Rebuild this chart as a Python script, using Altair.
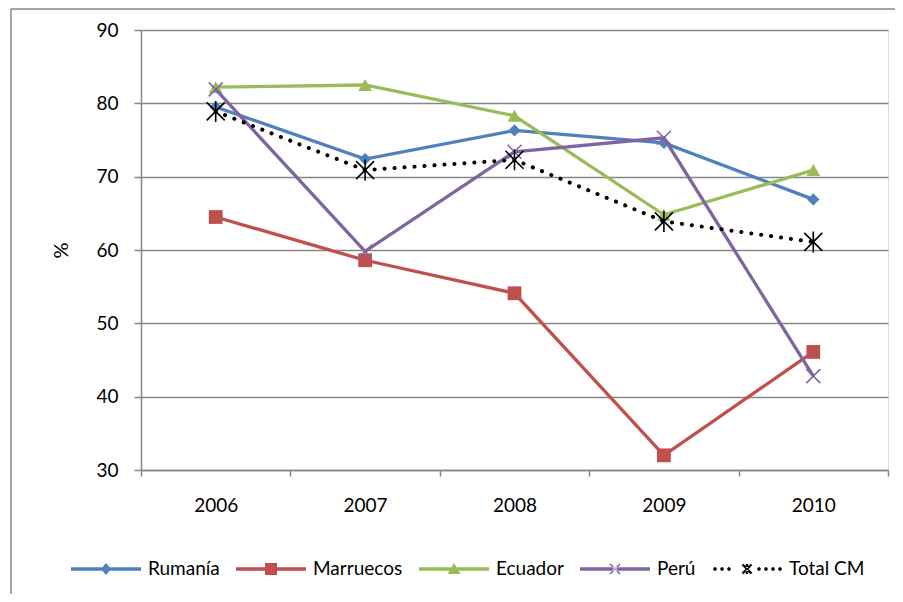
import math
import altair as alt
import pandas as pd

# ---------------- data ----------------
years = ["2006", "2007", "2008", "2009", "2010"]
series = ["Rumanía", "Marruecos", "Ecuador", "Perú", "Total CM"]
rumania = [79.5, 72.4, 76.3, 74.6, 66.9]
marruecos = [64.5, 58.6, 54.1, 32.0, 46.1]
ecuador = [82.2, 82.5, 78.3, 64.8, 70.9]
peru = [81.9, 59.8, 73.4, 75.3, 42.8]
total_cm = [78.9, 70.9, 72.3, 63.9, 61.1]
colors = ["#4F81BD", "#C0504D", "#9BBB59", "#8064A2", "#000000"]
y_ticks = [30, 40, 50, 60, 70, 80, 90]

values = [rumania, marruecos, ecuador, peru, total_cm]
rows = []
for s, vals in zip(series, values):
    for yr, v in zip(years, vals):
        rows.append({"year": yr, "serie": s, "value": v})
df = pd.DataFrame(rows)

FONT = "Lato"
GRAY = "#868686"

# ---------------- legend symbols (unit paths, r = 35 px) ----------------
R = 35.0


def u(p):
    return p / R


def rect(x0, y0, x1, y1):
    return f"M{u(x0):.4f},{u(y0):.4f}L{u(x1):.4f},{u(y0):.4f}L{u(x1):.4f},{u(y1):.4f}L{u(x0):.4f},{u(y1):.4f}Z"


def poly(pts):
    return "M" + "L".join(f"{u(a):.4f},{u(b):.4f}" for a, b in pts) + "Z"


def seg(x0, y0, x1, y1, t):
    dx, dy = x1 - x0, y1 - y0
    L = math.hypot(dx, dy)
    px, py = -dy / L * t / 2, dx / L * t / 2
    return poly([(x0 + px, y0 + py), (x1 + px, y1 + py), (x1 - px, y1 - py), (x0 - px, y0 - py)])


def dot(cx, r):
    return poly([(cx + r * math.cos(k * math.pi / 4), r * math.sin(k * math.pi / 4)) for k in range(8)])


line_part = rect(-35, -1.7, 35, 1.7)
sym_rumania = line_part + poly([(0, -6), (5, 0), (0, 6), (-5, 0)])
sym_marruecos = line_part + rect(-6, -6, 6, 6)
sym_ecuador = line_part + poly([(0, -6), (6.5, 5), (-6.5, 5)])
sym_peru = line_part + seg(-5, -5, 5, 5, 1.5) + seg(-5, 5, 5, -5, 1.5)
sym_total = "".join(dot(c, 1.9) for c in [-32, -25, -18, 12, 19, 26, 33]) + \
    seg(-4.5, -4.5, 4.5, 4.5, 2.4) + seg(-4.5, 4.5, 4.5, -4.5, 2.4) + rect(-1.2, -5, 1.2, 5)
legend_shapes = [sym_rumania, sym_marruecos, sym_ecuador, sym_peru, sym_total]

# ---------------- encodings ----------------
x_enc = alt.X(
    "year:N",
    scale=alt.Scale(type="band", domain=years, paddingInner=0, paddingOuter=0),
    axis=alt.Axis(
        title=None, labelAngle=0, labelFontSize=19, labelColor="#000000", labelFont=FONT,
        domainColor=GRAY, domainWidth=1.5, tickColor=GRAY, tickWidth=1.5, tickSize=6,
        tickBand="extent", labelPadding=20, grid=False,
    ),
)
y_enc = alt.Y(
    "value:Q",
    scale=alt.Scale(domain=[30, 90], nice=False, zero=False),
    axis=alt.Axis(
        title="%", values=y_ticks, labelFontSize=19, labelColor="#000000", labelFont=FONT,
        labelPadding=16, domainColor=GRAY, domainWidth=1.5, tickColor=GRAY, tickWidth=1.5,
        tickSize=7, grid=True, gridColor=GRAY, gridWidth=1.5,
        titleFontSize=20, titleFontWeight="normal", titleColor="#000000", titleFont=FONT,
        titleX=-80, titleY=220, titleAngle=270, titleAlign="center", titleBaseline="middle",
    ),
)

base = alt.Chart(df)
layers = []

# frame of the chart (left and top edges; right/bottom lie outside the picture)
one = pd.DataFrame({"k": [0]})
frame_left = alt.Chart(one).mark_rule(color=GRAY, strokeWidth=1.5).encode(
    x=alt.value(-130), x2=alt.value(-130), y=alt.value(-21), y2=alt.value(900))
frame_top = alt.Chart(one).mark_rule(color=GRAY, strokeWidth=1.5).encode(
    x=alt.value(-130), x2=alt.value(900), y=alt.value(-21), y2=alt.value(-21))
layers += [frame_left, frame_top]

markers = {
    "Rumanía": dict(shape="diamond", size=150, filled=True),
    "Marruecos": dict(shape="square", size=190, filled=True),
    "Ecuador": dict(shape="triangle-up", size=190, filled=True),
    "Perú": dict(shape="M-1,-1L1,1M-1,1L1,-1", size=196, filled=False, strokeWidth=1.5),
    "Total CM": dict(shape="M-0.9,-0.9L0.9,0.9M-0.9,0.9L0.9,-0.9M0,-1.05L0,1.05", size=400,
                     filled=False, strokeWidth=1.6),
}

for s, c in zip(series, colors):
    sub = base.transform_filter(alt.datum.serie == s)
    if s == "Total CM":
        ln = sub.mark_line(color=c, strokeWidth=4, strokeDash=[0.1, 9.9], strokeCap="round")
    else:
        ln = sub.mark_line(color=c, strokeWidth=3.3)
    layers.append(ln.encode(x=x_enc, y=y_enc))
    m = markers[s]
    pt = sub.mark_point(color=c, opacity=1, **m)
    layers.append(pt.encode(x=x_enc, y=y_enc))

# legend-only layer (no rows drawn)
legend_layer = base.transform_filter("false").mark_point(filled=True, opacity=1).encode(
    x=x_enc,
    y=y_enc,
    color=alt.Color(
        "serie:N",
        scale=alt.Scale(domain=series, range=colors),
        legend=alt.Legend(
            orient="none", legendX=-70, legendY=504, direction="horizontal", columns=5,
            title=None, symbolSize=R * R * 4, symbolStrokeWidth=0, symbolOpacity=1,
            labelFontSize=19, labelFont=FONT, labelColor="#000000", labelOffset=7,
            columnPadding=16, padding=0, labelLimit=300,
        ),
    ),
    shape=alt.Shape("serie:N", scale=alt.Scale(domain=series, range=legend_shapes)),
)
layers.append(legend_layer)

chart = alt.layer(*layers).properties(
    width=747,
    height=440,
    padding={"left": 133, "top": 22, "right": 7, "bottom": 124},
    autosize=alt.AutoSizeParams(type="none"),
    background="#ffffff",
).configure_view(stroke="transparent").configure(font=FONT)

chart.save("out.html", embed_options={"renderer": "svg", "actions": False})
